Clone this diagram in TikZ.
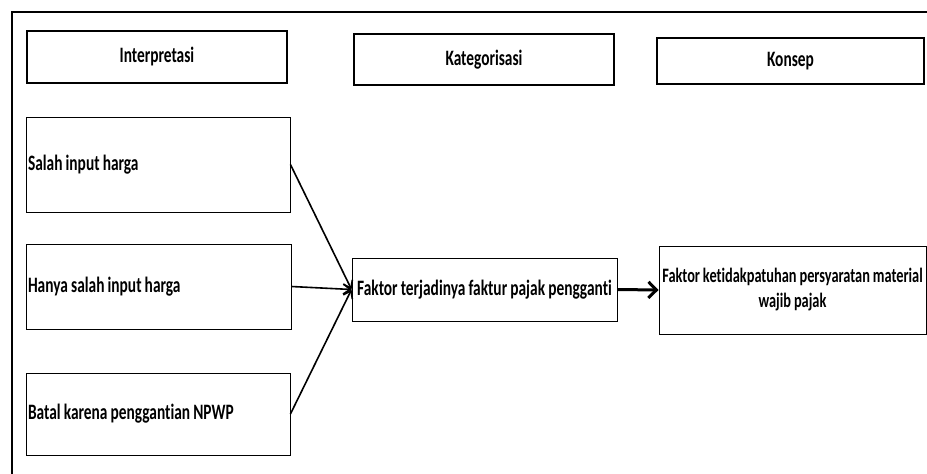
\documentclass[tikz,border=0pt]{standalone}
\usepackage{fontspec}
\setmainfont{Carlito}[BoldFont={Carlito Bold}, FakeStretch=0.7, WordSpace=0.9, Ligatures=NoCommon]
\usetikzlibrary{arrows.meta}

\tikzset{
    head/.style={draw, line width=2.2pt, font=\fontsize{22}{25}\selectfont\bfseries},
    item/.style={draw, line width=0.9pt, inner sep=1pt, align=flush left,
        font=\fontsize{22}{25}\selectfont\bfseries},
    link/.style={line width=1.6pt, -{Straight Barb[length=7pt,width=10pt]}}
}

\begin{document}
\begin{tikzpicture}[x=1pt,y=-1pt]
    \useasboundingbox (0,0) rectangle (927,474);
    % frame
    \draw [line width=1.4pt] (12,474) -- (12,12) -- (927,12);

    % column headings
    \node [head, minimum width=260pt, minimum height=52pt] (interp) at (157,57) {Interpretasi};
    \node [head, minimum width=260pt, minimum height=51pt] (kateg) at (484,59.5) {Kategorisasi};
    \node [head, minimum width=267pt, minimum height=46pt] (konsep) at (790.5,61) {Konsep};

    % interpretasi
    \node [item, minimum width=264pt, minimum height=95pt, text width=260pt] (salah) at (158,164.5) {Salah input harga};
    \node [item, minimum width=265pt, minimum height=85pt, text width=261pt] (hanya) at (158.5,286.5) {Hanya salah input harga};
    \node [item, minimum width=264pt, minimum height=82pt, text width=260pt] (batal) at (158,414) {Batal karena penggantian NPWP};

    % kategori dan konsep
    \node [item, align=flush center, minimum width=265pt, minimum height=63pt] (faktor) at (484.5,289.5) {Faktor terjadinya faktur pajak pengganti};
    \node [item, align=flush center, inner xsep=0pt, minimum width=267pt, minimum height=88pt,
        font=\fontsize{20.5}{25}\selectfont\bfseries] (patuh) at (792.5,290) {Faktor ketidakpatuhan\ persyaratan material\\wajib pajak};

    \foreach \n in {salah,hanya,batal} {
        \draw [link] (\n.east) -- (faktor.west);
    }
    \draw [link, line width=3pt, -{Straight Barb[length=8pt,width=16pt]}] (faktor.east) -- (patuh.west);
\end{tikzpicture}
\end{document}
